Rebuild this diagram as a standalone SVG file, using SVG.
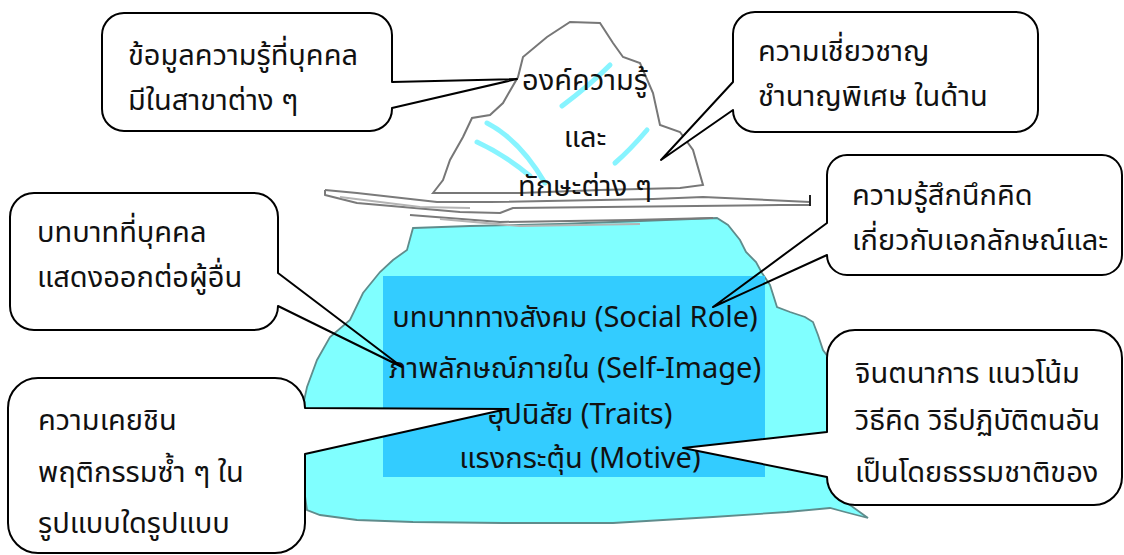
<svg xmlns="http://www.w3.org/2000/svg" width="1124" height="555" viewBox="0 0 1124 555">
  <style>
    .txt { font-family: 'Noto Sans Thai', 'Noto Sans', 'DejaVu Sans', sans-serif; font-size: 29px; fill: #111; }
    .mid { text-anchor: middle; }
    .box { fill: #fff; stroke: #000; stroke-width: 2; stroke-linejoin: round; }
    .outline { fill: none; stroke: #000; stroke-width: 2; stroke-linejoin: round; }
    .boxfill { fill: #fff; stroke: none; }
    .water { fill: none; stroke: #7a7a7a; stroke-width: 2; stroke-linejoin: round; }
    .water-lt { fill: none; stroke: #b4b4b4; stroke-width: 2; stroke-linejoin: round; }
    .glint { fill: none; stroke: #5ff0ff; stroke-width: 5; stroke-linecap: round; opacity: 0.75; }
  </style>

  <rect width="1124" height="555" fill="#fff"/>

  <!-- submerged part of the iceberg -->
  <g id="iceberg-base">
    <path d="M413,228 L470,226 L560,224 L640,221 L717,218 L728,225 L740,240 L746,252 L756,262 L762,273 L770,285 L777,307 L790,312 L805,317 L813,322 L818,335 L823,350 L845,380 L850,430 L850,505 L868,518 L845,512 L830,508 L787,512 L713,517 L613,523 L503,523 L413,522 L357,520 L320,515 L307,510 L300,460 L302,410 L307,387 L317,360 L330,337 L350,320 L363,293 L380,272 L393,260 L407,250 Z"
          fill="#80ffff" stroke="#5f8c8c" stroke-width="1.8"/>
    <rect x="383" y="276" width="382" height="201" fill="#33ccff"/>
    <text class="txt mid" x="575" y="327">บทบาททางสังคม (Social Role)</text>
    <text class="txt mid" x="575" y="378">ภาพลักษณ์ภายใน (Self-Image)</text>
    <text class="txt mid" x="580" y="424">อุปนิสัย (Traits)</text>
    <text class="txt mid" x="580" y="468">แรงกระตุ้น (Motive)</text>
  </g>

  <!-- waterline -->
  <g id="waterline">
    <polyline class="water" points="325,190 357,193 437,202 490,202 653,199 703,197 810,202"/>
    <polyline class="water" points="325,190 325,195 357,203 460,212 500,213 513,208 780,205 810,205"/>
    <polyline class="water-lt" points="340,197 420,207 470,208"/>
    <polyline class="water" points="410,215 500,222 630,220 713,218"/>
    <polyline class="water-lt" points="440,219 520,226 640,224"/>
    <line x1="810" y1="195" x2="810" y2="206" stroke="#222" stroke-width="2"/>
  </g>

  <!-- visible tip of the iceberg -->
  <g id="iceberg-tip">
    <path d="M433,193 L443,180 L450,160 L463,137 L472,118 L490,115 L503,103 L518,77 L523,57 L547,37 L570,22 L600,23 L613,43 L623,57 L640,63 L653,93 L660,125 L680,132 L693,150 L703,185 L680,188 L600,190 L520,193 Z"
          fill="#fff" stroke="#777" stroke-width="2"/>
    <path class="glint" d="M610,65 Q590,85 562,106"/>
    <path class="glint" d="M487,123 Q520,140 545,183"/>
    <path class="glint" d="M477,142 Q505,155 530,176"/>
    <path class="glint" d="M647,130 Q630,150 615,163"/>
    <text class="txt mid" x="585" y="90">องค์ความรู้</text>
    <text class="txt mid" x="585" y="147">และ</text>
    <text class="txt mid" x="585" y="196">ทักษะต่าง ๆ</text>
  </g>

  <!-- callouts -->
  <g id="callout-knowledge">
    <path class="box" d="M124,13 H370 A22,22 0 0 1 392,35 V82 L517,79 L392,108 V109 A22,22 0 0 1 370,131 H124 A22,22 0 0 1 102,109 V35 A22,22 0 0 1 124,13 Z"/>
    <text class="txt" x="128" y="65">ข้อมูลความรู้ที่บุคคล</text>
    <text class="txt" x="128" y="110">มีในสาขาต่าง ๆ</text>
  </g>

  <g id="callout-skill">
    <path class="box" d="M755,12 H1016 A22,22 0 0 1 1038,34 V110 A22,22 0 0 1 1016,132 H755 A22,22 0 0 1 733,110 L661,160 L733,82 V34 A22,22 0 0 1 755,12 Z"/>
    <text class="txt" x="758" y="61">ความเชี่ยวชาญ</text>
    <text class="txt" x="758" y="106">ชำนาญพิเศษ ในด้าน</text>
  </g>

  <g id="callout-social-role">
    <rect class="boxfill" x="10" y="193" width="268" height="137" rx="24"/>
    <path class="outline" d="M34,193 H254 A24,24 0 0 1 278,217 V273 L402,367 L278,306 A24,24 0 0 1 254,330 H34 A24,24 0 0 1 10,306 V217 A24,24 0 0 1 34,193 Z"/>
    <text class="txt" x="37" y="242">บทบาทที่บุคคล</text>
    <text class="txt" x="37" y="287">แสดงออกต่อผู้อื่น</text>
  </g>

  <g id="callout-self-image">
    <rect class="boxfill" x="827" y="155" width="295" height="120" rx="20"/>
    <path class="outline" d="M847,155 H1102 A20,20 0 0 1 1122,175 V255 A20,20 0 0 1 1102,275 H847 A20,20 0 0 1 827,255 L713,307 L827,223 V175 A20,20 0 0 1 847,155 Z"/>
    <text class="txt" x="852" y="205">ความรู้สึกนึกคิด</text>
    <text class="txt" x="852" y="250">เกี่ยวกับเอกลักษณ์และ</text>
  </g>

  <g id="callout-traits">
    <path class="box" d="M38,378 H275 A30,30 0 0 1 305,408 L507,409 L305,454 V523 A30,30 0 0 1 275,553 H38 A30,30 0 0 1 8,523 V408 A30,30 0 0 1 38,378 Z"/>
    <text class="txt" x="38" y="430">ความเคยชิน</text>
    <text class="txt" x="38" y="482">พฤติกรรมซ้ำ ๆ ใน</text>
    <text class="txt" x="38" y="533">รูปแบบใดรูปแบบ</text>
  </g>

  <g id="callout-motive">
    <path class="box" d="M855,330 H1094 A28,28 0 0 1 1122,358 V477 A28,28 0 0 1 1094,505 H855 A28,28 0 0 1 827,477 L683,448 L827,432 V358 A28,28 0 0 1 855,330 Z"/>
    <text class="txt" x="855" y="383">จินตนาการ แนวโน้ม</text>
    <text class="txt" x="855" y="430">วิธีคิด วิธีปฏิบัติตนอัน</text>
    <text class="txt" x="855" y="482">เป็นโดยธรรมชาติของ</text>
  </g>
</svg>
